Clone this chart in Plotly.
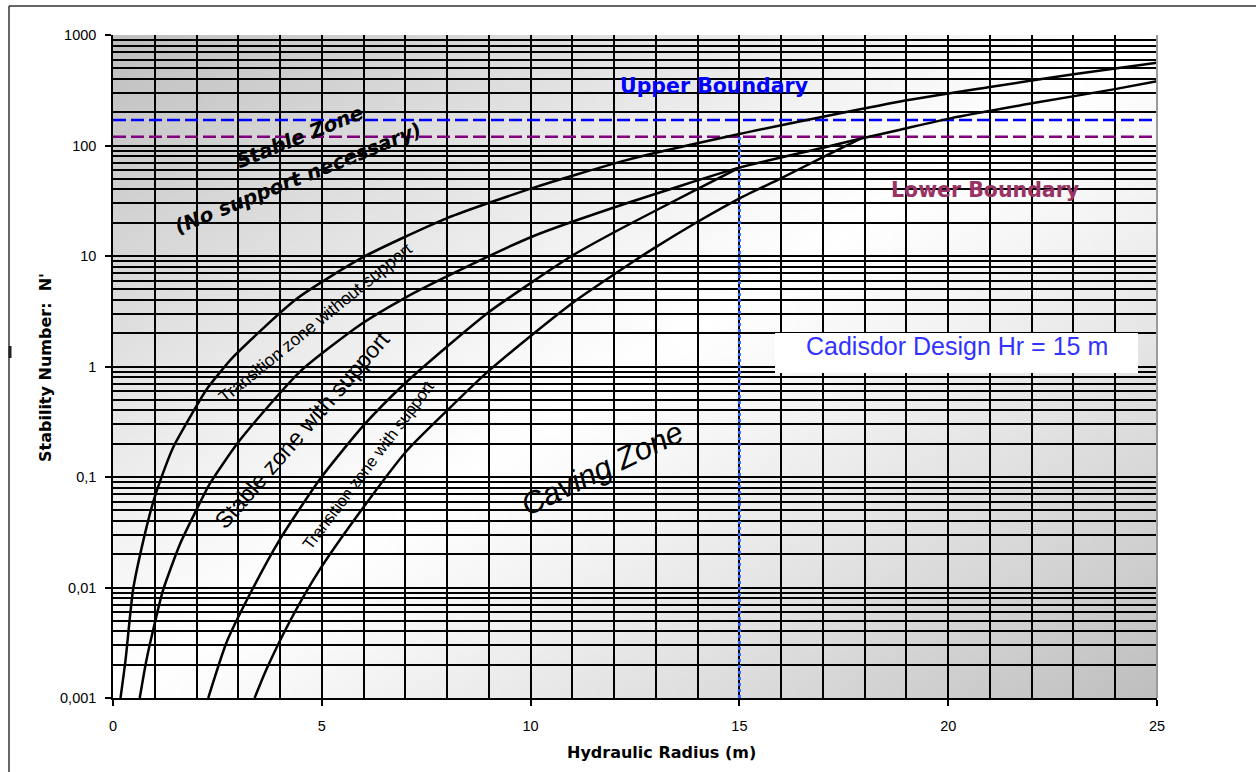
import base64
import struct
import zlib

import plotly.graph_objects as go

# ---------------------------------------------------------------------------
# Stability graph data: hydraulic radius (m) vs stability number N'
# ---------------------------------------------------------------------------
curve1_x = [0.18, 0.30, 0.48, 0.72, 0.96, 1.12, 1.44, 1.92, 2.24, 2.88,
            4.4, 6.0, 8.0, 10.06, 12.25, 15.0, 18.85, 21.0, 23.0, 25.0]
curve1_y = [0.001, 0.0022, 0.0095, 0.026, 0.059, 0.09, 0.185, 0.39, 0.62, 1.22,
            4.1, 9.8, 22.0, 41.4, 73.0, 127.0, 250.0, 338.0, 442.0, 560.0]

curve2_x = [0.64, 0.80, 1.04, 1.2, 1.6, 1.92, 2.32, 3.035, 4.48, 5.93, 6.95, 7.91,
            10.06, 12.3, 15.0, 16.93, 17.89, 18.85, 20.05, 22.04, 23.96, 25.0]
curve2_y = [0.001, 0.0022, 0.0055, 0.0095, 0.0245, 0.044, 0.087, 0.215, 0.9, 2.4,
            4.1, 6.3, 15.1, 30.0, 63.0, 94.0, 115.0, 139.0, 176.0, 242.0, 322.0, 382.0]

curve3_x = [2.28, 2.72, 3.27, 3.99, 4.95, 5.99, 6.95, 8.03, 9.02, 11.02, 12.26,
            13.98, 15.0]
curve3_y = [0.001, 0.0032, 0.0086, 0.027, 0.095, 0.29, 0.68, 1.55, 3.15, 10.2, 18.5,
            40.0, 63.0]

curve4_x = [3.39, 3.67, 4.23, 4.95, 5.91, 7.03, 8.03, 8.95, 10.06, 11.02, 12.38,
            12.93, 13.98, 14.95, 15.97, 16.93, 17.89]
curve4_y = [0.001, 0.0018, 0.0049, 0.0145, 0.048, 0.172, 0.41, 0.88, 1.97, 3.8,
            8.5, 11.6, 20.2, 32.4, 50.0, 76.0, 115.0]

upper_boundary = 170.0
lower_boundary = 120.0
design_hr = 15.0
x_span = [0.0, 25.0]

x_tick_vals = [0, 5, 10, 15, 20, 25]
y_tick_vals = [0.001, 0.01, 0.1, 1, 10, 100, 1000]
y_tick_text = ["0,001", "0,01", "0,1", "1", "10", "100", "1000"]

# ---------------------------------------------------------------------------
# Canvas geometry (pixels)
# ---------------------------------------------------------------------------
W, H = 1256, 772
L, R, T, B = 113, 1157, 35, 698


def px_x(px):
    return (px - L) / (R - L)


def px_y(py):
    return (B - py) / (B - T)


def gradient_png(w, h):
    """Diagonal grey-white-grey fill used behind the plotting area."""
    rows = []
    for j in range(h):
        v = j / (h - 1)
        row = bytearray()
        for i in range(w):
            u = i / (w - 1)
            d = abs(u + v - 1.0)
            c = int(round(255 - 64 * d ** 1.15))
            row += bytes((c, c, c))
        rows.append(b"\x00" + bytes(row))
    raw = b"".join(rows)

    def chunk(tag, data):
        body = tag + data
        return struct.pack(">I", len(data)) + body + struct.pack(">I", zlib.crc32(body) & 0xFFFFFFFF)

    png = b"\x89PNG\r\n\x1a\n"
    png += chunk(b"IHDR", struct.pack(">IIBBBBB", w, h, 8, 2, 0, 0, 0))
    png += chunk(b"IDAT", zlib.compress(raw, 9))
    png += chunk(b"IEND", b"")
    return "data:image/png;base64," + base64.b64encode(png).decode("ascii")


SANS = "Liberation Sans, Arial, sans-serif"
BOLD = "DejaVu Sans, Verdana, sans-serif"

fig = go.Figure()

# design hydraulic radius marker
fig.add_trace(go.Scatter(
    x=[design_hr, design_hr], y=[0.001, lower_boundary], mode="lines",
    line=dict(color="#3366FF", width=3, dash="dot"), hoverinfo="skip"))

# boundaries
fig.add_trace(go.Scatter(
    x=x_span, y=[upper_boundary, upper_boundary], mode="lines",
    line=dict(color="#0000FF", width=2.5, dash="13px,5px"), hoverinfo="skip"))
fig.add_trace(go.Scatter(
    x=x_span, y=[lower_boundary, lower_boundary], mode="lines",
    line=dict(color="#800080", width=2.5, dash="13px,5px"), hoverinfo="skip"))

for cx, cy in [(curve1_x, curve1_y), (curve2_x, curve2_y),
               (curve3_x, curve3_y), (curve4_x, curve4_y)]:
    fig.add_trace(go.Scatter(
        x=cx, y=cy, mode="lines", line=dict(color="black", width=2.5, shape="spline",
                                            smoothing=0.6),
        hoverinfo="skip"))

grid = dict(showgrid=True, gridcolor="black", gridwidth=1.8)

fig.update_xaxes(
    range=x_span, tickvals=x_tick_vals, ticks="outside", ticklen=6, tickwidth=1.5,
    tickcolor="black", showline=True, linecolor="black", linewidth=1.5,
    zeroline=False, tickfont=dict(family=SANS, size=14.5, color="black"),
    ticklabelstandoff=8,
    minor=dict(dtick=1, ticks="", **grid), **grid)

minor_y = [k * 10.0 ** e for e in range(-3, 3) for k in range(2, 10)]
fig.update_yaxes(
    type="log", range=[-3, 3], tickvals=y_tick_vals, ticktext=y_tick_text,
    ticks="outside", ticklen=6, tickwidth=1.5, tickcolor="black",
    showline=True, linecolor="black", linewidth=1.5, zeroline=False,
    tickfont=dict(family=SANS, size=14.5, color="black"),
    ticklabelstandoff=6,
    minor=dict(tickvals=minor_y, ticks="", **grid), **grid)

shapes = [
    # right-hand edge of the plotting area
    dict(type="line", xref="paper", yref="paper", x0=1, x1=1, y0=0, y1=1,
         line=dict(color="#9a9a9a", width=2)),
    # outer chart frame
    dict(type="line", xref="paper", yref="paper", x0=px_x(9), x1=px_x(W + 5),
         y0=px_y(6), y1=px_y(6), line=dict(color="#333333", width=1.5)),
    dict(type="line", xref="paper", yref="paper", x0=px_x(9), x1=px_x(9),
         y0=px_y(6), y1=px_y(H + 5), line=dict(color="#333333", width=1.5)),
    dict(type="line", xref="paper", yref="paper", x0=px_x(10), x1=px_x(10),
         y0=px_y(346), y1=px_y(358), line=dict(color="#222222", width=3)),
    # white label box
    dict(type="rect", xref="paper", yref="paper", x0=px_x(775), x1=px_x(1138),
         y0=px_y(373), y1=px_y(333), fillcolor="white", line=dict(width=0),
         layer="above"),
]


def note(text, cx, cy, size, family, color="black", angle=0, bold=False,
         italic=False):
    return dict(
        text=text, xref="paper", yref="paper", x=px_x(cx), y=px_y(cy),
        xanchor="center", yanchor="middle", showarrow=False, textangle=angle,
        font=dict(family=family, size=size, color=color,
                  weight="bold" if bold else "normal",
                  style="italic" if italic else "normal"))


annotations = [
    note("Upper Boundary", 714, 86, 20.5, BOLD, "#0000FF", bold=True),
    note("Lower Boundary", 985, 190, 20.5, BOLD, "#993366", bold=True),
    note("Stable Zone", 299, 137, 20, BOLD, angle=-22, bold=True, italic=True),
    note("(No support necessary)", 298, 178, 20, BOLD, angle=-22, bold=True,
         italic=True),
    note("Transition zone without support", 315, 323, 17.5, SANS, angle=-39),
    note("Stable zone with support", 302, 430, 23, SANS, angle=-49),
    note("Transition zone with support", 368, 465, 16.5, SANS, angle=-53),
    note("Caving Zone", 602, 468, 31, SANS, angle=-26, italic=True),
    note("Cadisdor Design Hr = 15 m", 957, 346, 25, SANS, "#3333FF"),
    note("Hydraulic Radius (m)", 661, 752, 16, BOLD, bold=True),
    note("Stability Number:\u00a0 N'", 45, 368, 16, BOLD, angle=-90, bold=True),
]

fig.update_layout(
    width=W, height=H, margin=dict(l=L, r=W - R, t=T, b=H - B, pad=0),
    paper_bgcolor="white", plot_bgcolor="rgba(0,0,0,0)", showlegend=False,
    shapes=shapes, annotations=annotations,
    images=[dict(source=gradient_png(120, 80), xref="paper", yref="paper",
                 x=0, y=1, sizex=1, sizey=1, xanchor="left", yanchor="top",
                 sizing="stretch", layer="below")],
)

fig.write_html("out.html")
